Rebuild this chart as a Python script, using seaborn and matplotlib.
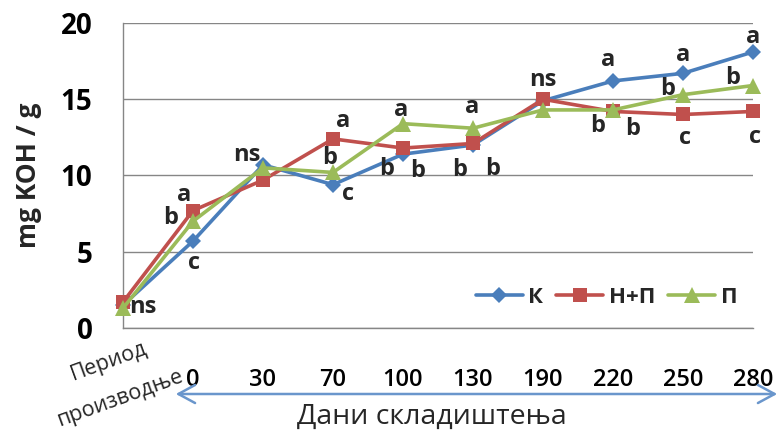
import matplotlib
matplotlib.use("Agg")
import matplotlib.pyplot as plt
from matplotlib.patches import FancyArrowPatch
import numpy as np
import pandas as pd
import seaborn as sns

# ---- data -------------------------------------------------------------
categories = ["Период\nпроизводње", "0", "30", "70", "100", "130",
              "190", "220", "250", "280"]
series_names = ["К", "Н+П", "П"]

k_values = [1.5, 5.7, 10.7, 9.4, 11.4, 12.0, 14.9, 16.2, 16.7, 18.1]
hp_values = [1.7, 7.7, 9.7, 12.4, 11.8, 12.1, 15.0, 14.2, 14.0, 14.2]
p_values = [1.3, 7.0, 10.5, 10.2, 13.4, 13.1, 14.3, 14.3, 15.3, 15.9]

# significance letters per series ("" = no letter)
k_letters = ["ns", "c", "ns", "c", "b", "b", "", "a", "a", "a"]
hp_letters = ["", "a", "", "a", "b", "b", "ns", "b", "c", "c"]
p_letters = ["", "b", "", "b", "a", "a", "", "b", "b", "b"]

# ---- styling ----------------------------------------------------------
sns.set_style("white")
plt.rcParams["font.family"] = ["Open Sans", "DejaVu Sans"]

colors = {"К": "#4a7ebb", "Н+П": "#c0504d", "П": "#9bbb59"}
markers = {"К": "D", "Н+П": "s", "П": "^"}
msizes = {"К": 8.5, "Н+П": 10, "П": 11}
grid_gray = "#868686"

# label offsets (pixels, right / down) from each marker
k_off = [(20, 2), (1, 22), (-16, -10), (15, 9), (-16, 15), (-13, 25),
         (0, 0), (-5, -21), (0, -18), (0, -15)]
hp_off = [(0, 0), (-9, -16), (0, 0), (10, -18), (15, 23), (20, 26),
          (0, -19), (-15, 15), (2, 23), (2, 26)]
p_off = [(0, 0), (-22, -3), (0, 0), (-3, -14), (-2, -14), (-1, -21),
         (0, 0), (20, 19), (-15, -6), (-20, -8)]

W, H = 782, 436
fig = plt.figure(figsize=(W / 100, H / 100), dpi=100)
left, right, top, bottom = 123, 753, 23, 328
ax = fig.add_axes([left / W, (H - bottom) / H, (right - left) / W,
                   (bottom - top) / H])

pos = np.arange(len(categories))
df = pd.DataFrame({
    "pos": np.tile(pos, 3),
    "value": k_values + hp_values + p_values,
    "series": np.repeat(series_names, len(categories)),
})

for z, name in enumerate(series_names):
    sub = df[df["series"] == name]
    sns.lineplot(data=sub, x="pos", y="value", ax=ax, color=colors[name],
                 marker=markers[name], markersize=msizes[name],
                 markeredgewidth=0, linewidth=2.6, label=name,
                 clip_on=False, zorder=3 + z)

ax.set_xlim(0, 9)
ax.set_ylim(0, 20)
ax.set_yticks([0, 5, 10, 15, 20])
ax.set_xticks(pos)
ax.set_xticklabels([""] + categories[1:])
ax.set_xlabel("")
ax.set_ylabel("")

ax.yaxis.grid(True, color=grid_gray, linewidth=1)
ax.set_axisbelow(True)
for s in ["top", "right"]:
    ax.spines[s].set_visible(False)
for s in ["left", "bottom"]:
    ax.spines[s].set_color(grid_gray)
    ax.spines[s].set_linewidth(1)

ax.tick_params(axis="x", direction="out", length=7, width=1,
               color=grid_gray, pad=22, labelsize=17, labelcolor="black")
ax.tick_params(axis="y", direction="out", length=8, width=1,
               color=grid_gray, pad=14, labelsize=20, labelcolor="black")
for lbl in ax.get_yticklabels():
    lbl.set_fontweight("bold")
for lbl in ax.get_xticklabels():
    lbl.set_fontweight("semibold")

# significance letters
for vals, letters, offs in [(k_values, k_letters, k_off),
                            (hp_values, hp_letters, hp_off),
                            (p_values, p_letters, p_off)]:
    for i, (v, t, (dx, dy)) in enumerate(zip(vals, letters, offs)):
        if t:
            ax.annotate(t, (i, v), xytext=(dx, -dy),
                        textcoords="offset pixels", ha="center",
                        va="center", fontsize=17, fontweight="bold",
                        annotation_clip=False, zorder=10)

# legend
ax.legend(ncol=3, loc="center right", bbox_to_anchor=(0.975, 0.10),
          frameon=False, prop={"weight": "bold", "size": 16},
          handlelength=2.1, handletextpad=0.25, columnspacing=0.6,
          borderpad=0, borderaxespad=0)

# first category label, written on two rotated lines
line1, line2 = categories[0].split("\n")
fig.text(109 / W, 1 - 361 / H, line1, rotation=20, rotation_mode="anchor",
         ha="center", va="center", fontsize=15.5)
fig.text(120 / W, 1 - 398 / H, line2, rotation=20, rotation_mode="anchor",
         ha="center", va="center", fontsize=15.5)

# storage-days arrow and axis titles
arrow = FancyArrowPatch((173 / W, 1 - 394 / H), (780 / W, 1 - 394 / H),
                        transform=fig.transFigure,
                        arrowstyle="<->,head_length=1.2,head_width=0.65",
                        mutation_scale=10, color="#6a96cc", linewidth=1.8)
fig.add_artist(arrow)

fig.text(432 / W, 1 - 417 / H, "Дани складиштења", ha="center",
         va="center", fontsize=20.5)
fig.text(29 / W, 1 - 175 / H, "mg KOH / g", rotation=90, ha="center",
         va="center", fontsize=19, fontweight="bold")

fig.savefig("out.png", dpi=100)
